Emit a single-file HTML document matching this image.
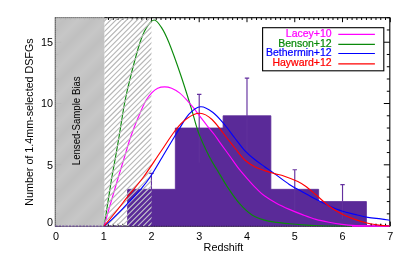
<!DOCTYPE html><html><head><meta charset="utf-8"><style>html,body{margin:0;padding:0;background:#fff;overflow:hidden}svg{display:block;position:absolute;left:0;top:0}text{font-family:"Liberation Sans",sans-serif;fill:#000}</style></head><body>
<svg style="will-change:transform" width="407" height="262" viewBox="0 0 407 262">
<defs><clipPath id="hc"><rect x="104.37" y="17.70" width="47.07" height="208.40"/></clipPath>
<clipPath id="pc"><rect x="55.40" y="16.70" width="334.40" height="209.90"/></clipPath>
<linearGradient id="gg" x1="0" y1="0" x2="14" y2="14" gradientUnits="userSpaceOnUse" spreadMethod="repeat"><stop offset="0" stop-color="#bebebe"/><stop offset="0.5" stop-color="#c5c5c5"/><stop offset="1" stop-color="#bebebe"/></linearGradient>
<clipPath id="bc"><rect x="127.86" y="189.62" width="23.59" height="36.18"/></clipPath>
</defs>
<rect width="407" height="262" fill="#fff"/>
<rect x="55.40" y="17.70" width="334.40" height="208.40" fill="none" stroke="#000" stroke-width="1.1"/>
<path d="M55.90,17.70v4.50M55.90,226.10v-4.50M60.68,17.70v2.30M60.68,226.10v-2.30M65.45,17.70v2.30M65.45,226.10v-2.30M70.23,17.70v2.30M70.23,226.10v-2.30M75.01,17.70v2.30M75.01,226.10v-2.30M79.79,17.70v2.30M79.79,226.10v-2.30M84.56,17.70v2.30M84.56,226.10v-2.30M89.34,17.70v2.30M89.34,226.10v-2.30M94.12,17.70v2.30M94.12,226.10v-2.30M98.89,17.70v2.30M98.89,226.10v-2.30M103.67,17.70v4.50M103.67,226.10v-4.50M108.45,17.70v2.30M108.45,226.10v-2.30M113.23,17.70v2.30M113.23,226.10v-2.30M118.00,17.70v2.30M118.00,226.10v-2.30M122.78,17.70v2.30M122.78,226.10v-2.30M127.56,17.70v2.30M127.56,226.10v-2.30M132.33,17.70v2.30M132.33,226.10v-2.30M137.11,17.70v2.30M137.11,226.10v-2.30M141.89,17.70v2.30M141.89,226.10v-2.30M146.67,17.70v2.30M146.67,226.10v-2.30M151.44,17.70v4.50M151.44,226.10v-4.50M156.22,17.70v2.30M156.22,226.10v-2.30M161.00,17.70v2.30M161.00,226.10v-2.30M165.77,17.70v2.30M165.77,226.10v-2.30M170.55,17.70v2.30M170.55,226.10v-2.30M175.33,17.70v2.30M175.33,226.10v-2.30M180.11,17.70v2.30M180.11,226.10v-2.30M184.88,17.70v2.30M184.88,226.10v-2.30M189.66,17.70v2.30M189.66,226.10v-2.30M194.44,17.70v2.30M194.44,226.10v-2.30M199.21,17.70v4.50M199.21,226.10v-4.50M203.99,17.70v2.30M203.99,226.10v-2.30M208.77,17.70v2.30M208.77,226.10v-2.30M213.55,17.70v2.30M213.55,226.10v-2.30M218.32,17.70v2.30M218.32,226.10v-2.30M223.10,17.70v2.30M223.10,226.10v-2.30M227.88,17.70v2.30M227.88,226.10v-2.30M232.65,17.70v2.30M232.65,226.10v-2.30M237.43,17.70v2.30M237.43,226.10v-2.30M242.21,17.70v2.30M242.21,226.10v-2.30M246.99,17.70v4.50M246.99,226.10v-4.50M251.76,17.70v2.30M251.76,226.10v-2.30M256.54,17.70v2.30M256.54,226.10v-2.30M261.32,17.70v2.30M261.32,226.10v-2.30M266.09,17.70v2.30M266.09,226.10v-2.30M270.87,17.70v2.30M270.87,226.10v-2.30M275.65,17.70v2.30M275.65,226.10v-2.30M280.43,17.70v2.30M280.43,226.10v-2.30M285.20,17.70v2.30M285.20,226.10v-2.30M289.98,17.70v2.30M289.98,226.10v-2.30M294.76,17.70v4.50M294.76,226.10v-4.50M299.53,17.70v2.30M299.53,226.10v-2.30M304.31,17.70v2.30M304.31,226.10v-2.30M309.09,17.70v2.30M309.09,226.10v-2.30M313.87,17.70v2.30M313.87,226.10v-2.30M318.64,17.70v2.30M318.64,226.10v-2.30M323.42,17.70v2.30M323.42,226.10v-2.30M328.20,17.70v2.30M328.20,226.10v-2.30M332.97,17.70v2.30M332.97,226.10v-2.30M337.75,17.70v2.30M337.75,226.10v-2.30M342.53,17.70v4.50M342.53,226.10v-4.50M347.31,17.70v2.30M347.31,226.10v-2.30M352.08,17.70v2.30M352.08,226.10v-2.30M356.86,17.70v2.30M356.86,226.10v-2.30M361.64,17.70v2.30M361.64,226.10v-2.30M366.41,17.70v2.30M366.41,226.10v-2.30M371.19,17.70v2.30M371.19,226.10v-2.30M375.97,17.70v2.30M375.97,226.10v-2.30M380.75,17.70v2.30M380.75,226.10v-2.30M385.52,17.70v2.30M385.52,226.10v-2.30M390.30,17.70v4.50M390.30,226.10v-4.50M55.40,226.10h6.00M389.80,226.10h-6.00M55.40,213.84h3.00M389.80,213.84h-3.00M55.40,201.58h3.00M389.80,201.58h-3.00M55.40,189.32h3.00M389.80,189.32h-3.00M55.40,177.06h3.00M389.80,177.06h-3.00M55.40,164.81h6.00M389.80,164.81h-6.00M55.40,152.55h3.00M389.80,152.55h-3.00M55.40,140.29h3.00M389.80,140.29h-3.00M55.40,128.03h3.00M389.80,128.03h-3.00M55.40,115.77h3.00M389.80,115.77h-3.00M55.40,103.51h6.00M389.80,103.51h-6.00M55.40,91.25h3.00M389.80,91.25h-3.00M55.40,78.99h3.00M389.80,78.99h-3.00M55.40,66.74h3.00M389.80,66.74h-3.00M55.40,54.48h3.00M389.80,54.48h-3.00M55.40,42.22h6.00M389.80,42.22h-6.00M55.40,29.96h3.00M389.80,29.96h-3.00M55.40,17.70h3.00M389.80,17.70h-3.00" stroke="#000" stroke-width="1" fill="none"/>
<rect x="55.20" y="17.10" width="49.17" height="209.40" fill="url(#gg)" opacity="0.97"/>
<path d="M55.40,17.70H103.67" stroke="#333" stroke-width="0.7" stroke-dasharray="1,1"/>
<path d="M55.40,17.70V226.10" stroke="#333" stroke-width="0.7" stroke-dasharray="1,1"/>
<path d="M127.56,226.00L127.56,189.32L175.33,189.32L175.33,128.03L223.10,128.03L223.10,115.77L270.87,115.77L270.87,189.32L318.64,189.32L318.64,201.58L366.41,201.58L366.41,226.00Z" fill="#5a2a98" stroke="#5a2a98" stroke-width="0.8"/>
<path d="M127.56,226.15H366.41" stroke="#1c0838" stroke-width="0.7" stroke-dasharray="1,1.4" opacity="0.8"/>
<path d="M55.40,226.10H127.56" stroke="#5a2a98" stroke-width="0.9" stroke-dasharray="2.2,1.2"/>
<path d="M366.41,226.10H389.80" stroke="#5a2a98" stroke-width="0.9" stroke-dasharray="1.2,1.2" opacity="0.6"/>
<path d="M151.44,189.32V173.10M149.24,173.40h4.4" stroke="#64309f" stroke-width="1.15" fill="none"/>
<path d="M151.44,189.32V210.56" stroke="#6a3aa0" stroke-width="0.8" fill="none" opacity="0.6"/>
<path d="M199.21,128.03V94.00M197.01,94.30h4.4" stroke="#64309f" stroke-width="1.15" fill="none"/>
<path d="M199.21,128.03V162.70" stroke="#6a3aa0" stroke-width="0.8" fill="none" opacity="0.6"/>
<path d="M246.99,115.77V77.80M244.79,78.10h4.4" stroke="#64309f" stroke-width="1.15" fill="none"/>
<path d="M246.99,115.77V152.55" stroke="#6a3aa0" stroke-width="0.8" fill="none" opacity="0.6"/>
<path d="M294.76,189.32V169.40M292.56,169.70h4.4" stroke="#64309f" stroke-width="1.15" fill="none"/>
<path d="M294.76,189.32V210.56" stroke="#6a3aa0" stroke-width="0.8" fill="none" opacity="0.6"/>
<path d="M342.53,201.58V184.25M340.33,184.55h4.4" stroke="#64309f" stroke-width="1.15" fill="none"/>
<path d="M342.53,201.58V218.92" stroke="#6a3aa0" stroke-width="0.8" fill="none" opacity="0.6"/>
<path d="M104.20,226.00 C104.62,223.33 105.97,214.67 106.70,210.00 C107.43,205.33 107.70,203.67 108.60,198.00 C109.50,192.33 110.40,185.95 112.10,176.00 C113.80,166.05 116.65,150.80 118.80,138.30 C120.95,125.80 122.88,111.88 125.00,101.00 C127.12,90.12 129.05,82.58 131.50,73.00 C133.95,63.42 137.28,50.92 139.70,43.50 C142.12,36.08 143.60,32.42 146.00,28.50 C148.40,24.58 151.53,20.18 154.10,20.00 C156.67,19.82 158.95,23.68 161.40,27.40 C163.85,31.12 165.58,34.37 168.80,42.30 C172.02,50.23 177.00,64.17 180.70,75.00 C184.40,85.83 188.03,97.70 191.00,107.30 C193.97,116.90 195.43,124.35 198.50,132.60 C201.57,140.85 206.18,150.40 209.40,156.80 C212.62,163.20 214.75,165.90 217.80,171.00 C220.85,176.10 224.07,181.95 227.70,187.40 C231.33,192.85 235.55,199.10 239.60,203.70 C243.65,208.30 247.87,212.27 252.00,215.00 C256.13,217.73 260.27,218.87 264.40,220.10 C268.53,221.33 272.65,221.78 276.80,222.40 C280.95,223.02 284.93,223.38 289.30,223.80 C293.67,224.22 298.22,224.58 303.00,224.90 C307.78,225.22 312.67,225.50 318.00,225.70 C323.33,225.90 323.03,226.03 335.00,226.10 C346.97,226.17 380.67,226.10 389.80,226.10" fill="none" stroke="#0a8a0a" stroke-width="1.15" stroke-linejoin="round" clip-path="url(#pc)"/>
<path d="M104.20,226.00 C104.80,223.83 106.57,217.33 107.80,213.00 C109.03,208.67 109.78,206.17 111.60,200.00 C113.42,193.83 116.65,182.83 118.70,176.00 C120.75,169.17 122.05,165.08 123.90,159.00 C125.75,152.92 127.97,145.07 129.80,139.50 C131.63,133.93 133.23,129.90 134.90,125.60 C136.57,121.30 137.98,117.83 139.80,113.70 C141.62,109.57 143.82,104.27 145.80,100.80 C147.78,97.33 149.72,94.98 151.70,92.90 C153.68,90.82 155.55,89.30 157.70,88.30 C159.85,87.30 162.28,86.90 164.60,86.90 C166.92,86.90 169.12,87.30 171.60,88.30 C174.08,89.30 176.85,90.82 179.50,92.90 C182.15,94.98 185.18,98.33 187.50,100.80 C189.82,103.27 191.42,105.22 193.40,107.70 C195.38,110.18 197.10,112.68 199.40,115.70 C201.70,118.72 204.65,122.58 207.20,125.80 C209.75,129.02 212.60,132.23 214.70,135.00 C216.80,137.77 217.30,138.90 219.80,142.40 C222.30,145.90 226.40,151.45 229.70,156.00 C233.00,160.55 236.28,165.48 239.60,169.70 C242.92,173.92 246.70,178.05 249.60,181.30 C252.50,184.55 254.53,186.78 257.00,189.20 C259.47,191.62 261.10,193.42 264.40,195.80 C267.70,198.18 272.65,201.23 276.80,203.50 C280.95,205.77 284.93,207.50 289.30,209.40 C293.67,211.30 298.57,213.23 303.00,214.90 C307.43,216.57 311.58,218.17 315.90,219.40 C320.22,220.63 324.57,221.47 328.90,222.30 C333.23,223.13 337.38,223.85 341.90,224.40 C346.42,224.95 351.32,225.32 356.00,225.60 C360.68,225.88 364.37,226.02 370.00,226.10 C375.63,226.18 386.50,226.10 389.80,226.10" fill="none" stroke="#ff00ff" stroke-width="1.15" stroke-linejoin="round" clip-path="url(#pc)"/>
<path d="M-174.90,226.10l220.00,-220.00M-169.60,226.10l220.00,-220.00M-164.30,226.10l220.00,-220.00M-159.00,226.10l220.00,-220.00M-153.70,226.10l220.00,-220.00M-148.40,226.10l220.00,-220.00M-143.10,226.10l220.00,-220.00M-137.80,226.10l220.00,-220.00M-132.50,226.10l220.00,-220.00M-127.20,226.10l220.00,-220.00M-121.90,226.10l220.00,-220.00M-116.60,226.10l220.00,-220.00M-111.30,226.10l220.00,-220.00M-106.00,226.10l220.00,-220.00M-100.70,226.10l220.00,-220.00M-95.40,226.10l220.00,-220.00M-90.10,226.10l220.00,-220.00M-84.80,226.10l220.00,-220.00M-79.50,226.10l220.00,-220.00M-74.20,226.10l220.00,-220.00M-68.90,226.10l220.00,-220.00M-63.60,226.10l220.00,-220.00M-58.30,226.10l220.00,-220.00M-53.00,226.10l220.00,-220.00M-47.70,226.10l220.00,-220.00M-42.40,226.10l220.00,-220.00M-37.10,226.10l220.00,-220.00M-31.80,226.10l220.00,-220.00M-26.50,226.10l220.00,-220.00M-21.20,226.10l220.00,-220.00M-15.90,226.10l220.00,-220.00M-10.60,226.10l220.00,-220.00M-5.30,226.10l220.00,-220.00M0.00,226.10l220.00,-220.00M5.30,226.10l220.00,-220.00M10.60,226.10l220.00,-220.00M15.90,226.10l220.00,-220.00M21.20,226.10l220.00,-220.00M26.50,226.10l220.00,-220.00M31.80,226.10l220.00,-220.00M37.10,226.10l220.00,-220.00M42.40,226.10l220.00,-220.00M47.70,226.10l220.00,-220.00M53.00,226.10l220.00,-220.00M58.30,226.10l220.00,-220.00M63.60,226.10l220.00,-220.00M68.90,226.10l220.00,-220.00M74.20,226.10l220.00,-220.00M79.50,226.10l220.00,-220.00M84.80,226.10l220.00,-220.00M90.10,226.10l220.00,-220.00M95.40,226.10l220.00,-220.00M100.70,226.10l220.00,-220.00M106.00,226.10l220.00,-220.00M111.30,226.10l220.00,-220.00M116.60,226.10l220.00,-220.00M121.90,226.10l220.00,-220.00M127.20,226.10l220.00,-220.00M132.50,226.10l220.00,-220.00M137.80,226.10l220.00,-220.00M143.10,226.10l220.00,-220.00M148.40,226.10l220.00,-220.00M153.70,226.10l220.00,-220.00" stroke="#b6b6b6" stroke-width="1.15" fill="none" clip-path="url(#hc)"/>
<path d="M-174.90,226.10l220.00,-220.00M-169.60,226.10l220.00,-220.00M-164.30,226.10l220.00,-220.00M-159.00,226.10l220.00,-220.00M-153.70,226.10l220.00,-220.00M-148.40,226.10l220.00,-220.00M-143.10,226.10l220.00,-220.00M-137.80,226.10l220.00,-220.00M-132.50,226.10l220.00,-220.00M-127.20,226.10l220.00,-220.00M-121.90,226.10l220.00,-220.00M-116.60,226.10l220.00,-220.00M-111.30,226.10l220.00,-220.00M-106.00,226.10l220.00,-220.00M-100.70,226.10l220.00,-220.00M-95.40,226.10l220.00,-220.00M-90.10,226.10l220.00,-220.00M-84.80,226.10l220.00,-220.00M-79.50,226.10l220.00,-220.00M-74.20,226.10l220.00,-220.00M-68.90,226.10l220.00,-220.00M-63.60,226.10l220.00,-220.00M-58.30,226.10l220.00,-220.00M-53.00,226.10l220.00,-220.00M-47.70,226.10l220.00,-220.00M-42.40,226.10l220.00,-220.00M-37.10,226.10l220.00,-220.00M-31.80,226.10l220.00,-220.00M-26.50,226.10l220.00,-220.00M-21.20,226.10l220.00,-220.00M-15.90,226.10l220.00,-220.00M-10.60,226.10l220.00,-220.00M-5.30,226.10l220.00,-220.00M0.00,226.10l220.00,-220.00M5.30,226.10l220.00,-220.00M10.60,226.10l220.00,-220.00M15.90,226.10l220.00,-220.00M21.20,226.10l220.00,-220.00M26.50,226.10l220.00,-220.00M31.80,226.10l220.00,-220.00M37.10,226.10l220.00,-220.00M42.40,226.10l220.00,-220.00M47.70,226.10l220.00,-220.00M53.00,226.10l220.00,-220.00M58.30,226.10l220.00,-220.00M63.60,226.10l220.00,-220.00M68.90,226.10l220.00,-220.00M74.20,226.10l220.00,-220.00M79.50,226.10l220.00,-220.00M84.80,226.10l220.00,-220.00M90.10,226.10l220.00,-220.00M95.40,226.10l220.00,-220.00M100.70,226.10l220.00,-220.00M106.00,226.10l220.00,-220.00M111.30,226.10l220.00,-220.00M116.60,226.10l220.00,-220.00M121.90,226.10l220.00,-220.00M127.20,226.10l220.00,-220.00M132.50,226.10l220.00,-220.00M137.80,226.10l220.00,-220.00M143.10,226.10l220.00,-220.00M148.40,226.10l220.00,-220.00M153.70,226.10l220.00,-220.00" stroke="#bcb2d0" stroke-width="1.0" fill="none" clip-path="url(#bc)"/>
<path d="M352.00,226.0H389.20" stroke="#ff00ff" stroke-width="1.6"/>
<path d="M371.19,225.40v-1.60M375.97,225.40v-1.60M380.75,225.40v-1.60M385.52,225.40v-1.60" stroke="#000" stroke-width="1" fill="none"/>
<path d="M104.20,226.00 C105.67,224.72 109.98,221.10 113.00,218.30 C116.02,215.50 119.30,212.28 122.30,209.20 C125.30,206.12 128.05,203.00 131.00,199.80 C133.95,196.60 136.77,193.85 140.00,190.00 C143.23,186.15 146.33,182.78 150.40,176.70 C154.47,170.62 159.70,161.28 164.40,153.50 C169.10,145.72 174.50,136.55 178.60,130.00 C182.70,123.45 185.33,118.07 189.00,114.20 C192.67,110.33 196.60,107.08 200.60,106.80 C204.60,106.52 208.95,109.47 213.00,112.50 C217.05,115.53 221.27,120.75 224.90,125.00 C228.53,129.25 231.48,133.73 234.80,138.00 C238.12,142.27 241.48,147.02 244.80,150.60 C248.12,154.18 251.40,156.82 254.70,159.50 C258.00,162.18 261.30,164.35 264.60,166.70 C267.90,169.05 270.38,170.65 274.50,173.60 C278.62,176.55 284.55,181.30 289.30,184.40 C294.05,187.50 298.57,189.72 303.00,192.20 C307.43,194.68 311.58,197.05 315.90,199.30 C320.22,201.55 324.57,203.75 328.90,205.70 C333.23,207.65 337.58,209.55 341.90,211.00 C346.22,212.45 350.48,213.33 354.80,214.40 C359.12,215.47 363.48,216.65 367.80,217.40 C372.12,218.15 377.03,218.43 380.70,218.90 C384.37,219.37 388.28,219.98 389.80,220.20" fill="none" stroke="#0000ff" stroke-width="1.15" stroke-linejoin="round" clip-path="url(#pc)"/>
<path d="M104.20,226.00 C106.38,223.33 113.33,214.97 117.30,210.00 C121.27,205.03 123.63,201.70 128.00,196.20 C132.37,190.70 138.25,184.12 143.50,177.00 C148.75,169.88 154.15,161.33 159.50,153.50 C164.85,145.67 171.02,135.83 175.60,130.00 C180.18,124.17 182.97,121.28 187.00,118.50 C191.03,115.72 195.63,113.13 199.80,113.30 C203.97,113.47 207.48,115.38 212.00,119.50 C216.52,123.62 223.10,133.25 226.90,138.00 C230.70,142.75 231.82,144.33 234.80,148.00 C237.78,151.67 241.48,156.88 244.80,160.00 C248.12,163.12 251.40,164.93 254.70,166.70 C258.00,168.47 261.30,169.45 264.60,170.60 C267.90,171.75 271.20,172.67 274.50,173.60 C277.80,174.53 280.52,174.88 284.40,176.20 C288.28,177.52 294.27,179.82 297.80,181.50 C301.33,183.18 302.58,184.08 305.60,186.30 C308.62,188.52 312.02,191.52 315.90,194.80 C319.78,198.08 324.57,202.78 328.90,206.00 C333.23,209.22 337.58,211.87 341.90,214.10 C346.22,216.33 350.48,217.87 354.80,219.40 C359.12,220.93 363.48,222.30 367.80,223.30 C372.12,224.30 377.03,224.93 380.70,225.40 C384.37,225.87 388.28,225.98 389.80,226.10" fill="none" stroke="#ff0000" stroke-width="1.15" stroke-linejoin="round" clip-path="url(#pc)"/>
<rect x="262.6" y="27.7" width="121.2" height="43.1" fill="#fff" stroke="#000" stroke-width="1.1"/>
<text x="331.7" y="36.80" text-anchor="end" font-size="10.5" style="fill:#ff00ff;stroke:#ff00ff;stroke-width:0.22px">Lacey+10</text>
<path d="M338.3,34.30H374.9" stroke="#ff00ff" stroke-width="1.2"/>
<text x="331.7" y="46.80" text-anchor="end" font-size="10.5" style="fill:#0a8a0a;stroke:#0a8a0a;stroke-width:0.22px">Benson+12</text>
<path d="M338.3,44.30H374.9" stroke="#0a8a0a" stroke-width="1.2"/>
<text x="331.7" y="56.40" text-anchor="end" font-size="10.5" style="fill:#0000ff;stroke:#0000ff;stroke-width:0.22px">Bethermin+12</text>
<path d="M338.3,53.50H374.9" stroke="#0000ff" stroke-width="1.2"/>
<text x="331.7" y="65.90" text-anchor="end" font-size="10.5" style="fill:#ff0000;stroke:#ff0000;stroke-width:0.22px">Hayward+12</text>
<path d="M338.3,63.90H374.9" stroke="#ff0000" stroke-width="1.2"/>
<text x="55.90" y="240.2" text-anchor="middle" font-size="10.8">0</text>
<text x="103.67" y="240.2" text-anchor="middle" font-size="10.8">1</text>
<text x="151.44" y="240.2" text-anchor="middle" font-size="10.8">2</text>
<text x="199.21" y="240.2" text-anchor="middle" font-size="10.8">3</text>
<text x="246.99" y="240.2" text-anchor="middle" font-size="10.8">4</text>
<text x="294.76" y="240.2" text-anchor="middle" font-size="10.8">5</text>
<text x="342.53" y="240.2" text-anchor="middle" font-size="10.8">6</text>
<text x="390.30" y="240.2" text-anchor="middle" font-size="10.8">7</text>
<text x="52.9" y="226.30" text-anchor="end" font-size="10.8">0</text>
<text x="52.9" y="168.71" text-anchor="end" font-size="10.8">5</text>
<text x="52.9" y="107.41" text-anchor="end" font-size="10.8">10</text>
<text x="52.9" y="46.12" text-anchor="end" font-size="10.8">15</text>
<text x="223.4" y="251.0" text-anchor="middle" font-size="10.8">Redshift</text>
<text transform="translate(33.3,122.0) rotate(-90)" text-anchor="middle" font-size="10.72">Number of 1.4mm-selected DSFGs</text>
<text transform="translate(79.7,120.8) rotate(-90) scale(0.876,1)" text-anchor="middle" font-size="11">Lensed-Sample Bias</text>
</svg></body></html>
